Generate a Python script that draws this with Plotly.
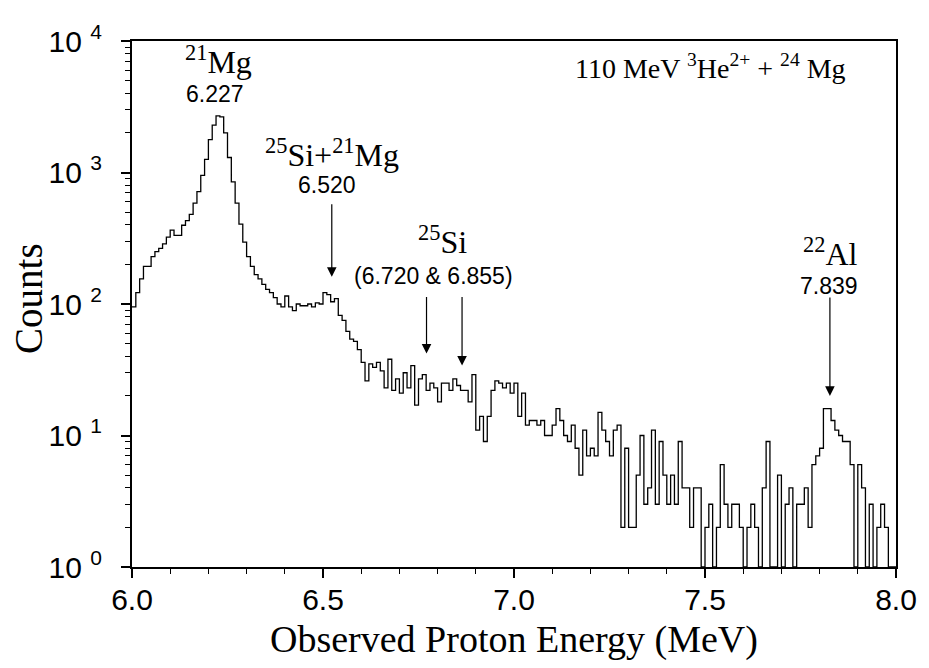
import math
import plotly.graph_objects as go

# ---------------- data ----------------
BIN_START = 6.0      # MeV, left edge of first bin
BIN_WIDTH = 0.01     # MeV
counts = [
    95, 122, 155, 193, 193, 229, 250, 265, 287, 322,
    364, 333, 333, 397, 430, 480, 585, 715, 950, 1260,
    1780, 2290, 2700, 2650, 2000, 1300, 850, 585, 405, 295,
    229, 193, 167, 155, 141, 129, 122, 112, 100, 95,
    115, 95, 89, 100, 97, 97, 100, 95, 102, 100,
    122, 118, 104, 110, 82, 75, 62, 54, 52, 45,
    36, 26, 35, 33, 36, 31, 23, 38, 22, 27,
    21, 30, 23, 34, 17, 27, 29, 22, 25, 23,
    18, 25, 25, 22, 27, 24, 22, 22, 18, 29,
    11, 14, 9, 14, 22, 26, 25, 23, 25, 21,
    25, 14, 21, 12, 13, 13, 12, 13, 10, 10,
    12, 16, 13, 10, 9, 12, 8, 5, 11, 7,
    8, 7, 15, 11, 9, 7, 11, 12, 2, 8,
    2, 2, 5, 10, 3, 4, 11, 3, 9, 5,
    3, 5, 3, 9, 4, 4, 2, 4, 4, 1,
    2, 3, 1, 2, 6, 3, 2, 3, 3, 2,
    1, 2, 3, 2, 1, 4, 9, 1, 1, 5,
    1, 3, 4, 1, 3, 3, 4, 2, 6, 7,
    8, 16, 16, 13, 11, 10, 9, 9, 6, 1,
    6, 4, 1, 3, 1, 2, 3, 2, 1, 1,
]

x_tickvals = [6.0, 6.5, 7.0, 7.5, 8.0]
x_ticktext = ["6.0", "6.5", "7.0", "7.5", "8.0"]
y_tickvals = [1, 10, 100, 1000, 10000]
y_ticktext = ["10 <sup>0</sup>", "10 <sup>1</sup>", "10 <sup>2</sup>",
              "10 <sup>3</sup>", "10 <sup>4</sup>"]

# arrows: (energy of arrow, count at arrow tip, arrow length px)
arrow_energy = [6.523, 6.771, 6.864, 7.827]
arrow_tip = [161, 42, 34, 20]
arrow_len = [74, 58, 70, 100]

# ---------------- figure ----------------
edges = [BIN_START + i * BIN_WIDTH for i in range(len(counts) + 1)]
ys = counts + [counts[-1]]

fig = go.Figure()
fig.add_trace(go.Scatter(
    x=edges, y=ys, mode="lines",
    line=dict(shape="hv", color="black", width=1.3),
    hoverinfo="skip", showlegend=False,
))

# plot frame in screen pixels; the page body adds an 8 px offset
OFF = 8
L, R, T, B = 132, 906, 34, 567
W, H = 929 - OFF, 668 - OFF


def px(xp):
    return (xp - L) / (R - L)


def py(yp):
    return (B - yp) / (B - T)


SERIF = "Liberation Serif"
SANS = "Liberation Sans"
ann = []


def text(xp, yp, s, font, size):
    ann.append(dict(x=px(xp), y=py(yp), xref="paper", yref="paper", text=s,
                    showarrow=False, xanchor="center", yanchor="middle",
                    font=dict(family=font, size=size, color="black")))


text(220, 53, "<sup>21</sup>Mg", SERIF, 32)
text(216, 88, "6.227", SANS, 23)
text(335, 147, "<sup>25</sup>Si+<sup>21</sup>Mg", SERIF, 32)
text(330, 180, "6.520", SANS, 23)
text(447, 236, "<sup>25</sup>Si", SERIF, 32)
text(437, 272, "(6.720 &amp; 6.855)", SANS, 23)
text(840, 248, "<sup>22</sup>Al", SERIF, 32)
text(838, 282, "7.839", SANS, 23)
text(718, 60, "110 MeV <sup>3</sup>He<sup>2+</sup> + <sup>24</sup> Mg", SERIF, 28)
# axis titles
ann.append(dict(x=px(27), y=py(295), xref="paper", yref="paper", text="Counts",
                showarrow=False, textangle=-90, xanchor="center", yanchor="middle",
                font=dict(family=SERIF, size=39, color="black")))
text(519, 640, "Observed Proton Energy (MeV)", SERIF, 38)

for e, c, ln in zip(arrow_energy, arrow_tip, arrow_len):
    ann.append(dict(x=e, y=math.log10(c), xref="x", yref="y", text="",
                    showarrow=True, ax=0, ay=-ln, arrowhead=2, arrowsize=1.6,
                    arrowwidth=1.2, arrowcolor="black", standoff=0))

minor_y = [m * 10 ** d for d in range(4) for m in range(2, 10)]

fig.update_layout(
    width=W, height=H,
    margin=dict(l=L - OFF, r=W - (R - OFF), t=T - OFF, b=H - (B - OFF)),
    paper_bgcolor="white", plot_bgcolor="white",
    annotations=ann,
    xaxis=dict(range=[6.0, 8.0], tickmode="array", tickvals=x_tickvals,
               ticktext=x_ticktext, ticks="outside", ticklen=9, tickwidth=1.5,
               tickcolor="black", showline=True, linecolor="black", linewidth=2,
               mirror=True, showgrid=False, zeroline=False,
               tickfont=dict(family=SANS, size=30, color="black"),
               ticklabelstandoff=-4,
               minor=dict(ticks="outside", ticklen=5, tickwidth=1.2,
                          tickcolor="black", dtick=0.1, showgrid=False)),
    yaxis=dict(type="log", range=[0, 4], tickmode="array", tickvals=y_tickvals,
               ticktext=y_ticktext, ticks="outside", ticklen=9, tickwidth=1.5,
               tickcolor="black", showline=True, linecolor="black", linewidth=2,
               mirror=True, showgrid=False, zeroline=False,
               tickfont=dict(family=SANS, size=30, color="black"),
               ticklabelstandoff=13,
               minor=dict(ticks="outside", ticklen=5, tickwidth=1.2,
                          tickcolor="black", tickmode="array", tickvals=minor_y,
                          showgrid=False)),
)

fig.write_html("out.html")
